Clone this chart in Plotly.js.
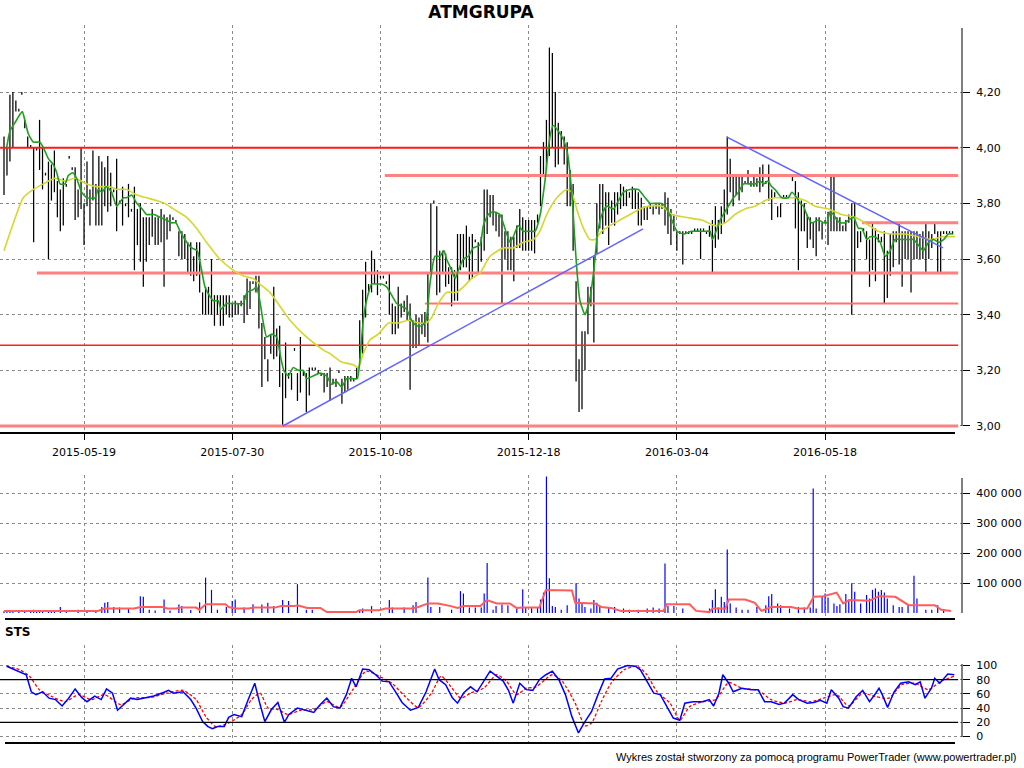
<!DOCTYPE html>
<html><head><meta charset="utf-8">
<script src="https://cdn.plot.ly/plotly-3.0.1.min.js"></script>
<style>html,body{margin:0;padding:0;background:#fff}#chart{width:1024px;height:768px}</style>
</head><body><div id="chart"></div>
<script>
// ---------- data ----------
const tickIdx = [27, 77, 127, 177, 227, 277];
const tickDates = ['2015-05-19', '2015-07-30', '2015-10-08', '2015-12-18', '2016-03-04', '2016-05-18'];

const priceTicks = [3.0, 3.2, 3.4, 3.6, 3.8, 4.0, 4.2];
const priceLabels = ['3,00', '3,20', '3,40', '3,60', '3,80', '4,00', '4,20'];
const volTicks = [100000, 200000, 300000, 400000];
const volLabels = ['100 000', '200 000', '300 000', '400 000'];
const stsTicks = [0, 20, 40, 60, 80, 100];
const stsLabels = ['0', '20', '40', '60', '80', '100'];

const highs = [
4.04,4.00,4.19,4.20,4.17,4.14,4.20,4.10,4.04,4.01,
4.00,4.00,4.10,4.00,3.91,3.95,3.94,3.99,3.88,3.85,
3.89,3.87,3.97,3.93,3.93,3.85,4.00,3.80,3.95,3.85,
3.99,3.87,3.97,3.95,3.93,3.97,3.91,3.85,3.96,3.81,
3.86,3.80,3.87,3.78,3.86,3.78,3.80,3.75,3.75,3.75,
3.78,3.75,3.75,3.78,3.76,3.75,3.76,3.75,3.74,3.70,
3.70,3.69,3.66,3.66,3.61,3.66,3.66,3.48,3.50,3.50,
3.60,3.47,3.47,3.47,3.47,3.47,3.47,3.44,3.45,3.44,
3.45,3.47,3.53,3.52,3.52,3.54,3.54,3.37,3.32,3.24,
3.33,3.50,3.35,3.36,3.19,3.30,3.19,3.19,3.28,3.19,
3.32,3.20,3.19,3.21,3.21,3.21,3.20,3.19,3.19,3.19,
3.21,3.17,3.17,3.20,3.17,3.18,3.18,3.18,3.17,3.21,
3.38,3.49,3.59,3.51,3.63,3.60,3.56,3.54,3.54,3.52,
3.55,3.44,3.43,3.50,3.44,3.45,3.47,3.44,3.38,3.40,
3.39,3.40,3.41,3.55,3.80,3.81,3.79,3.63,3.63,3.62,
3.57,3.57,3.56,3.69,3.69,3.69,3.72,3.68,3.69,3.67,
3.66,3.68,3.85,3.85,3.83,3.83,3.77,3.76,3.76,3.70,
3.70,3.68,3.68,3.72,3.78,3.75,3.74,3.74,3.74,3.74,
3.76,3.97,4.02,4.10,4.36,4.34,4.20,4.09,4.06,4.04,
4.02,3.92,3.87,3.52,3.24,3.34,3.34,3.50,3.50,3.61,
3.80,3.87,3.87,3.84,3.84,3.81,3.84,3.84,3.87,3.86,
3.85,3.84,3.86,3.85,3.84,3.82,3.79,3.79,3.80,3.79,
3.80,3.80,3.80,3.84,3.82,3.78,3.76,3.70,3.70,3.70,
3.70,3.70,3.70,3.71,3.71,3.71,3.71,3.70,3.72,3.74,
3.79,3.74,3.79,3.85,4.04,3.96,3.90,3.90,3.90,3.90,
3.88,3.92,3.88,3.90,3.89,3.93,3.94,3.88,3.94,3.85,
3.84,3.79,3.80,3.83,3.83,3.83,3.90,3.88,3.84,3.81,
3.80,3.76,3.75,3.73,3.75,3.75,3.73,3.74,3.77,3.90,
3.90,3.75,3.75,3.72,3.74,3.76,3.80,3.80,3.70,3.70,
3.71,3.70,3.67,3.73,3.71,3.69,3.68,3.70,3.63,3.69,
3.70,3.70,3.73,3.70,3.70,3.70,3.70,3.70,3.70,3.69,
3.70,3.73,3.70,3.69,3.73,3.70,3.70,3.70,3.70,3.70,
3.70];

const lows = [
3.83,3.90,3.95,4.00,4.13,4.13,4.19,4.07,4.00,4.00,
3.66,3.99,3.92,3.85,3.90,3.60,3.81,3.84,3.75,3.70,
3.72,3.86,3.96,3.92,3.74,3.75,3.78,3.65,3.79,3.72,
3.81,3.72,3.72,3.72,3.79,3.77,3.79,3.84,3.70,3.80,
3.72,3.79,3.75,3.77,3.56,3.65,3.59,3.50,3.59,3.65,
3.68,3.65,3.65,3.66,3.50,3.67,3.70,3.74,3.73,3.61,
3.60,3.60,3.55,3.54,3.52,3.54,3.48,3.40,3.40,3.40,
3.40,3.36,3.40,3.36,3.36,3.40,3.39,3.39,3.40,3.40,
3.43,3.37,3.40,3.42,3.51,3.48,3.35,3.14,3.24,3.16,
3.26,3.24,3.25,3.14,3.00,3.10,3.17,3.13,3.27,3.09,
3.12,3.18,3.05,3.11,3.20,3.20,3.19,3.18,3.12,3.14,
3.09,3.15,3.14,3.19,3.08,3.12,3.13,3.16,3.16,3.17,
3.24,3.26,3.39,3.48,3.48,3.51,3.47,3.53,3.53,3.51,
3.40,3.33,3.33,3.35,3.39,3.41,3.38,3.13,3.28,3.28,
3.29,3.33,3.32,3.30,3.55,3.80,3.47,3.48,3.55,3.50,
3.51,3.43,3.45,3.45,3.56,3.57,3.57,3.52,3.53,3.66,
3.55,3.59,3.63,3.69,3.75,3.72,3.70,3.68,3.44,3.60,
3.56,3.56,3.52,3.64,3.64,3.63,3.63,3.63,3.63,3.62,
3.73,3.79,3.90,3.92,3.97,4.00,3.93,3.94,4.00,3.94,
3.79,3.79,3.63,3.16,3.05,3.06,3.20,3.33,3.43,3.30,
3.62,3.71,3.69,3.72,3.65,3.73,3.72,3.76,3.78,3.79,
3.79,3.82,3.78,3.78,3.72,3.72,3.74,3.74,3.78,3.76,
3.78,3.76,3.78,3.72,3.69,3.65,3.70,3.63,3.69,3.58,
3.69,3.69,3.69,3.70,3.70,3.60,3.70,3.69,3.68,3.55,
3.64,3.67,3.69,3.73,3.76,3.84,3.79,3.83,3.81,3.84,
3.87,3.87,3.86,3.86,3.86,3.84,3.86,3.87,3.81,3.74,
3.82,3.75,3.75,3.82,3.82,3.82,3.88,3.71,3.56,3.70,
3.70,3.64,3.67,3.64,3.61,3.70,3.67,3.73,3.65,3.70,
3.70,3.70,3.70,3.70,3.70,3.73,3.40,3.55,3.64,3.66,
3.70,3.60,3.50,3.56,3.52,3.66,3.66,3.44,3.46,3.54,
3.57,3.66,3.58,3.50,3.60,3.60,3.48,3.60,3.60,3.60,
3.60,3.55,3.60,3.64,3.69,3.55,3.55,3.69,3.69,3.69,
3.69];

// short moving average (green) [bar index, price]
const greenMA = [[0.9,4.00],[2,4.06],[3.7,4.09],[5.4,4.12],[6.2,4.13],[7,4.10],[8.2,4.05],[9.9,4.02],[12.1,4.02],[13.3,4.00],[15,3.96],[16.6,3.94],[17.8,3.91],[18.9,3.87],[20.6,3.87],[21.7,3.90],[23.2,3.91],[24.5,3.89],[26.2,3.84],[27.9,3.82],[30.7,3.82],[31.8,3.85],[33,3.84],[34.6,3.86],[36.3,3.84],[38,3.79],[40.3,3.82],[41.4,3.82],[43.1,3.83],[44.8,3.80],[46.6,3.78],[48.1,3.76],[50.6,3.76],[52.6,3.75],[54.8,3.74],[56.5,3.73],[58,3.73],[59.4,3.70],[61,3.67],[63.3,3.64],[65.2,3.63],[66.3,3.58],[67.8,3.50],[69.2,3.47],[70.6,3.45],[72.3,3.45],[73.2,3.42],[75.1,3.44],[77.9,3.44],[80.7,3.44],[82,3.48],[84.1,3.49],[85.2,3.50],[86.3,3.45],[87.5,3.37],[88.6,3.32],[90.3,3.33],[92,3.32],[93.3,3.25],[94.4,3.20],[95.9,3.18],[97.6,3.21],[99.3,3.20],[101,3.20],[102.1,3.17],[104.3,3.18],[106.6,3.19],[108.8,3.18],[110.5,3.15],[112.2,3.16],[113.9,3.14],[115.6,3.17],[117.9,3.17],[119.2,3.17],[120.1,3.24],[121.2,3.38],[122.3,3.45],[124,3.51],[125.7,3.51],[127.4,3.51],[129.1,3.50],[130.8,3.47],[132.5,3.44],[134.2,3.43],[135.8,3.42],[137.5,3.38],[139.2,3.36],[140.9,3.36],[142.4,3.38],[143.7,3.51],[145.4,3.61],[147.1,3.61],[148.4,3.63],[149.3,3.60],[151,3.56],[152.2,3.53],[153.3,3.56],[155,3.60],[156.7,3.61],[158.3,3.64],[160.6,3.65],[161.7,3.72],[163.4,3.76],[165.1,3.77],[167.3,3.76],[169.6,3.69],[170.7,3.66],[171.8,3.68],[173.5,3.72],[175.2,3.70],[177.5,3.70],[179.2,3.70],[180.9,3.76],[182.5,3.88],[184.2,4.04],[185.3,4.08],[187,4.06],[188.7,4.03],[190.1,3.98],[191.2,3.88],[192.1,3.75],[193,3.60],[194.3,3.45],[196,3.40],[197.7,3.46],[199.1,3.57],[200.2,3.69],[201.7,3.76],[203.3,3.79],[205.6,3.78],[207.3,3.81],[209,3.84],[211.2,3.85],[214,3.85],[216.3,3.82],[218,3.80],[220.2,3.80],[221.9,3.80],[223.6,3.78],[225.3,3.74],[227,3.70],[229.2,3.69],[232,3.70],[234.8,3.70],[237.1,3.70],[238.2,3.70],[239,3.67],[239.9,3.69],[241.6,3.74],[242.7,3.76],[244.4,3.79],[246.1,3.82],[247.8,3.84],[249.5,3.87],[251.1,3.87],[253.4,3.87],[255.1,3.88],[256.2,3.87],[257.7,3.88],[259,3.86],[260.1,3.85],[262.4,3.82],[264.6,3.82],[265.8,3.84],[267.5,3.82],[268.6,3.80],[269.7,3.79],[270.8,3.76],[272.5,3.73],[274.8,3.74],[276.5,3.73],[277.6,3.73],[278.7,3.77],[279.8,3.76],[281,3.74],[282.1,3.73],[283.8,3.73],[284.9,3.74],[286.6,3.75],[288.3,3.71],[289.4,3.71],[291.1,3.67],[292.2,3.68],[293.9,3.68],[295.6,3.66],[297.3,3.61],[299,3.63],[300.6,3.67],[302.9,3.67],[305.1,3.67],[306.8,3.67],[308.5,3.65],[310.2,3.63],[311.9,3.66],[313.6,3.67],[315.3,3.66],[317,3.67],[318.6,3.69],[320.3,3.69]];

// long moving average (yellow) [bar index, price]
const yellowMA = [[0,3.63],[3.2,3.73],[6.5,3.82],[9.9,3.85],[13.3,3.87],[17.2,3.89],[20.6,3.88],[24,3.89],[27.9,3.87],[31.3,3.86],[35.8,3.86],[38,3.85],[41.4,3.85],[44.8,3.83],[48.1,3.82],[51.5,3.81],[54.2,3.80],[57.1,3.78],[61.6,3.75],[65,3.71],[68.3,3.66],[72.8,3.60],[77.3,3.56],[80.7,3.54],[84.1,3.53],[86.3,3.51],[89.7,3.48],[93.1,3.43],[96.5,3.38],[101,3.33],[104.3,3.30],[108.2,3.27],[110,3.26],[113.9,3.23],[117.9,3.22],[119.5,3.21],[121.2,3.26],[123.5,3.31],[126.3,3.33],[129.7,3.37],[133,3.37],[136.4,3.38],[139.8,3.37],[142.4,3.37],[144.3,3.39],[146.5,3.44],[149.3,3.48],[152.7,3.48],[155,3.50],[157.8,3.53],[160.6,3.55],[164,3.61],[168.5,3.64],[171.8,3.64],[175.2,3.66],[178.6,3.67],[180.8,3.70],[183.1,3.76],[186.5,3.82],[189.8,3.85],[191.5,3.84],[193.2,3.78],[195.5,3.71],[197.7,3.67],[199.4,3.67],[201.7,3.70],[204.5,3.72],[207.8,3.74],[211.2,3.76],[214.6,3.78],[217.4,3.79],[221.9,3.79],[225.3,3.76],[229.8,3.75],[235.4,3.74],[239.9,3.72],[243.3,3.73],[246.6,3.76],[250,3.78],[253.4,3.79],[256.8,3.81],[260.1,3.82],[263.5,3.82],[266.9,3.82],[270.3,3.81],[273.6,3.79],[278.1,3.78],[282.6,3.76],[287.1,3.75],[290.5,3.73],[295,3.70],[299.5,3.69],[304,3.69],[308.5,3.68],[313,3.67],[316.4,3.68],[320.9,3.68]];

// support / resistance levels
const levelVals  = [4.00, 3.90, 3.73, 3.55, 3.44, 3.29, 3.00];
const levelFrom  = [-1.35, 128.5, 289.5, 11.1, 142, -1.35, -1.35];
const levelTo    = 321.9;

// trend lines [start idx, start price, end idx, end price]
const trendUp   = [94.1, 3.00, 215.6, 3.708];
const trendDown = [243.9, 4.038, 316.8, 3.64];

// volume (thousands of shares)
const volIdx = [0,1,2,3,5,7,9,10,11,12,13,15,16,17,19,21,25,28,31,33,34,35,37,39,42,46,47,49,51,54,56,59,60,63,66,68,70,72,75,77,78,81,84,87,89,91,94,96,99,102,104,113,120,121,124,130,131,135,138,139,143,144,147,151,154,155,157,159,161,162,163,165,166,168,170,173,175,176,178,180,181,182,183,184,185,186,188,190,193,194,195,196,198,199,200,201,204,206,209,211,214,217,219,221,223,224,226,229,238,239,240,241,242,243,244,245,247,249,251,254,257,258,259,261,262,265,268,270,272,273,274,276,277,278,280,281,282,284,285,286,287,289,291,292,293,294,295,296,297,298,300,302,303,305,307,308,311,313,315,317];
const volK = [6,5,6,6,5,5,6,11,6,5,6,5,6,5,20,5,11,5,6,20,34,37,20,18,15,56,54,11,8,45,8,28,23,10,36,118,77,11,20,40,45,18,29,28,34,23,43,40,96,11,11,7,9,15,23,43,18,18,26,37,118,20,20,11,73,65,18,18,18,65,167,11,23,28,26,18,79,18,18,18,45,68,455,116,23,20,11,26,99,48,37,20,15,43,34,20,18,20,15,11,11,15,18,15,165,23,23,15,15,43,79,18,54,37,212,32,18,11,11,20,26,56,63,32,26,15,20,18,18,415,15,56,65,52,32,23,29,63,45,99,71,32,60,48,77,82,71,77,68,48,26,20,20,26,124,48,11,11,26,9];

// volume moving average [bar index, thousands]
const volMA = [[0,7],[31.7,7],[33.9,15],[43.9,15],[46.1,20],[53.8,20],[54.9,15],[58.2,15],[59.3,18],[64.8,18],[65.9,11],[68.1,29],[74.7,29],[75.8,20],[78,15],[82.4,15],[84.6,18],[91.3,18],[93.5,23],[97.9,23],[99,26],[102.3,17],[106.7,17],[108.9,3],[118.8,3],[119.9,9],[126.5,9],[128.7,15],[137.6,15],[139.8,20],[143.1,32],[146.4,32],[150.8,23],[153,17],[155.2,23],[160.7,23],[162.9,43],[166.2,32],[170.6,32],[172.9,17],[175,18],[180.6,18],[182.8,77],[191.6,75],[192.7,34],[199.3,32],[201.5,20],[204.8,17],[208.1,7],[222.5,7],[223.6,29],[231.3,29],[233.5,7],[237.9,3],[239,15],[243.4,15],[244.5,45],[250,45],[253.3,34],[255.5,7],[258.8,20],[265.5,20],[267.7,15],[271,15],[273.2,54],[276.5,56],[280.9,68],[283.1,32],[285.3,43],[289.7,43],[292,41],[295.2,56],[298.5,56],[300.7,54],[305.2,26],[307.4,26],[314,26],[316.2,11],[319.5,7]];

// stochastic %K (blue) and %D (red dashed)
const stsK = [[0.9,99],[3.1,95],[5.3,90],[7.5,87],[9.2,63],[10.8,59],[13,63],[15.2,54],[17.4,52],[19.6,43],[21.8,54],[24,67],[26.2,55],[28,49],[30.6,57],[32.8,52],[34.6,67],[36.6,61],[38.3,37],[40.5,45],[42.7,54],[45,52],[47.2,54],[50.5,57],[53.8,62],[55.5,65],[57.1,61],[60.4,63],[63,52],[64.8,40],[67,21],[68.8,14],[70.3,11],[72.1,14],[74.3,14],[75.8,27],[77.6,31],[80.2,28],[82.4,52],[84.6,75],[86.4,45],[88,21],[90.2,38],[92.4,48],[94.6,20],[96.1,31],[99,40],[101.2,38],[104.5,34],[106.7,45],[108.9,54],[111.1,42],[113.3,40],[115.5,59],[117.3,82],[118.8,70],[121,95],[123.2,94],[125.4,87],[127.6,78],[129.9,77],[132.1,63],[134.3,48],[137.1,37],[139.8,41],[142.4,63],[145.3,95],[146.8,80],[149,73],[151.2,55],[153,47],[155.2,62],[157.4,70],[159.6,63],[161.8,77],[164,92],[166.2,85],[168.4,78],[170.2,65],[171.8,47],[174,75],[176.2,66],[178.4,65],[180.6,80],[182.8,87],[185,92],[187.2,80],[189.4,59],[191.6,28],[193.8,5],[196,21],[198.2,35],[200.4,59],[202.6,81],[204.8,82],[207,95],[210.3,100],[213,99],[214.7,94],[216.9,77],[219.2,61],[221.4,59],[223.6,42],[225.8,26],[228,23],[229.7,47],[232.4,49],[235.7,49],[237.9,52],[239.4,43],[241.2,61],[242.5,87],[244.5,75],[246,63],[248.9,68],[252.2,66],[254.4,66],[256.6,49],[258.8,49],[261.5,45],[263.3,47],[266.1,59],[268.1,52],[271,47],[273.2,48],[275.4,51],[277.6,47],[279.1,66],[281.6,54],[283.1,42],[284.9,40],[287.5,56],[289.7,65],[292,49],[294.1,61],[295.2,68],[296.3,59],[298.1,41],[300.3,63],[302.5,75],[305.2,77],[307.4,73],[309.1,77],[310.7,54],[312.9,68],[314,82],[315.7,75],[318.4,88],[320.6,87]];
const stsD = [[0.9,99],[5.3,94],[8.6,85],[11.9,66],[16.3,56],[20.7,49],[25.1,59],[29.5,52],[33.9,59],[39.4,45],[43.9,54],[49.4,55],[54.9,61],[60.4,65],[64.8,52],[68.1,28],[71.4,14],[75.8,19],[80.2,31],[83.5,52],[86.4,61],[89.1,40],[92.4,38],[95.7,31],[100.1,37],[104.5,38],[108.9,49],[113.3,41],[117.7,66],[122.1,92],[126.5,85],[130.9,75],[135.4,56],[139.8,41],[144.2,61],[147.5,85],[150.8,70],[154.1,54],[157.4,61],[161.8,68],[166.2,87],[169.5,78],[172.9,59],[176.2,68],[179.5,70],[185,87],[188.3,78],[192.7,47],[196,15],[198.2,19],[201.5,49],[204.8,75],[209.2,94],[213.6,99],[216.9,87],[220.3,63],[224.7,47],[228,23],[231.3,42],[235.7,49],[240.1,52],[244.5,76],[248.9,68],[254.4,65],[258.8,52],[263.3,47],[267.7,52],[272.1,49],[276.5,54],[280.9,59],[284.9,43],[289.7,61],[294.1,56],[298.5,54],[302.9,73],[307.4,75],[311.8,66],[316.2,78],[320.6,85]];
const stsLevels = [20, 80];

// ---------- build ----------
const H = 768, PW = 962;
const py = px => 1 - px / H;     // pixel row -> paper y
const pxX = px => px / PW;       // pixel col -> paper x
const FONT = 'DejaVu Sans';

const barX = [], barY = [];
highs.forEach((h, i) => { barX.push(i, i, null); barY.push(lows[i], h, null); });

const traces = [];
traces.push({type:'scatter', mode:'lines', x:barX, y:barY, xaxis:'x', yaxis:'y',
  line:{color:'#000', width:1.25}, hoverinfo:'skip', connectgaps:false});

const levelStyles = [
  {color:'#ff1a1a', width:2}, {color:'#ff8080', width:3}, {color:'#ff8080', width:3},
  {color:'#ff8080', width:3}, {color:'#ff7070', width:2}, {color:'#ff2020', width:1.5},
  {color:'#ff8080', width:3}];
levelVals.forEach((v, k) => {
  traces.push({type:'scatter', mode:'lines', x:[levelFrom[k], levelTo], y:[v, v],
    xaxis:'x', yaxis:'y', line:levelStyles[k], hoverinfo:'skip'});
});

traces.push({type:'scatter', mode:'lines', x:yellowMA.map(p=>p[0]), y:yellowMA.map(p=>p[1]),
  xaxis:'x', yaxis:'y', line:{color:'#d6d630', width:1.6, shape:'spline', smoothing:0.6}, hoverinfo:'skip'});
traces.push({type:'scatter', mode:'lines', x:greenMA.map(p=>p[0]), y:greenMA.map(p=>p[1]),
  xaxis:'x', yaxis:'y', line:{color:'#1f9f1f', width:1.6, shape:'spline', smoothing:0.5}, hoverinfo:'skip'});

[trendUp, trendDown].forEach(t => {
  traces.push({type:'scatter', mode:'lines', x:[t[0], t[2]], y:[t[1], t[3]],
    xaxis:'x', yaxis:'y', line:{color:'#6464ff', width:1.5}, hoverinfo:'skip'});
});

traces.push({type:'bar', x:volIdx, y:volK.map(v=>v*1000), width:0.4, xaxis:'x2', yaxis:'y2',
  marker:{color:'#0000ff', line:{width:0}}, hoverinfo:'skip'});
traces.push({type:'scatter', mode:'lines', x:volMA.map(p=>p[0]), y:volMA.map(p=>p[1]*1000),
  xaxis:'x2', yaxis:'y2', line:{color:'#ff5c5c', width:2}, hoverinfo:'skip'});

traces.push({type:'scatter', mode:'lines', x:stsD.map(p=>p[0]), y:stsD.map(p=>p[1]),
  xaxis:'x3', yaxis:'y3', line:{color:'#ff0000', width:1.3, dash:'3px,2px', shape:'spline', smoothing:0.6}, hoverinfo:'skip'});
traces.push({type:'scatter', mode:'lines', x:stsK.map(p=>p[0]), y:stsK.map(p=>p[1]),
  xaxis:'x3', yaxis:'y3', line:{color:'#0000ff', width:1.5}, hoverinfo:'skip'});

const xr = [-1.35, 323.2];
const gridX = {range:xr, tickvals:tickIdx, ticktext:tickDates, showgrid:true, gridcolor:'#8a8a8a',
  griddash:'dot', gridwidth:1, zeroline:false, showline:false, fixedrange:true};
const yBase = {side:'right', ticks:'outside', ticklen:7, tickcolor:'#000', tickwidth:1,
  showgrid:true, gridcolor:'#8a8a8a', griddash:'dot', gridwidth:1, zeroline:false, showline:false,
  tickfont:{family:FONT, size:11, color:'#000'}, ticklabelstandoff:4, fixedrange:true};

const shapes = [];
function hline(x0, x1, y, w){ shapes.push({type:'line', xref:'paper', yref:'paper', x0:pxX(x0), x1:pxX(x1), y0:py(y), y1:py(y), line:{color:'#000', width:w}}); }
function vline(x, y0, y1){ shapes.push({type:'line', xref:'paper', yref:'paper', x0:pxX(x), x1:pxX(x), y0:py(y0), y1:py(y1), line:{color:'#000', width:1}}); }
hline(0, 955, 433, 2);
hline(5, 955, 619, 2);
hline(5, 955, 743, 2);
vline(962, 28, 426);
vline(962, 478, 613);
vline(962, 664, 737);
stsLevels.forEach(v => shapes.push({type:'line', xref:'x3', yref:'y3', x0:-1.35, x1:321.9, y0:v, y1:v, line:{color:'#000', width:1.3}}));

const layout = {
  width:1024, height:768, autosize:false,
  margin:{l:0, r:62, t:0, b:0, pad:0},
  paper_bgcolor:'#fff', plot_bgcolor:'#fff',
  showlegend:false, hovermode:false,
  font:{family:FONT, size:11, color:'#000'},
  title:{text:'<b>ATMGRUPA</b>', font:{family:FONT, size:17, color:'#000'},
    xref:'paper', x:0.5, xanchor:'center', yref:'container', y:py(12), yanchor:'middle'},
  xaxis:Object.assign({}, gridX, {domain:[0,1], anchor:'y', ticks:'outside', ticklen:6, tickcolor:'#000',
    tickfont:{family:FONT, size:11, color:'#000'}, ticklabelstandoff:3}),
  xaxis2:Object.assign({}, gridX, {domain:[0,1], anchor:'y2', showticklabels:false, ticks:''}),
  xaxis3:Object.assign({}, gridX, {domain:[0,1], anchor:'y3', showticklabels:false, ticks:''}),
  yaxis:Object.assign({}, yBase, {domain:[py(433), py(25)], anchor:'x', range:[2.9748, 4.4409],
    tickvals:priceTicks, ticktext:priceLabels}),
  yaxis2:Object.assign({}, yBase, {domain:[py(620), py(475)], anchor:'x2', range:[-23333, 460000],
    tickvals:volTicks, ticktext:volLabels}),
  yaxis3:Object.assign({}, yBase, {domain:[py(743), py(645)], anchor:'x3', range:[-9.15, 128.9],
    tickvals:stsTicks, ticktext:stsLabels}),
  shapes:shapes,
  annotations:[
    {text:'<b>STS</b>', xref:'paper', yref:'paper', x:pxX(3), y:py(632), xanchor:'left', yanchor:'middle',
      showarrow:false, font:{family:FONT, size:12, color:'#000'}},
    {text:'Wykres został stworzony za pomocą programu PowerTrader (www.powertrader.pl)', xref:'paper', yref:'paper',
      x:pxX(1019), y:py(757), xanchor:'right', yanchor:'middle', showarrow:false,
      font:{family:'Liberation Sans', size:11, color:'#000'}}
  ]
};

Plotly.newPlot('chart', traces, layout, {staticPlot:true, displayModeBar:false});
</script>
</body></html>
